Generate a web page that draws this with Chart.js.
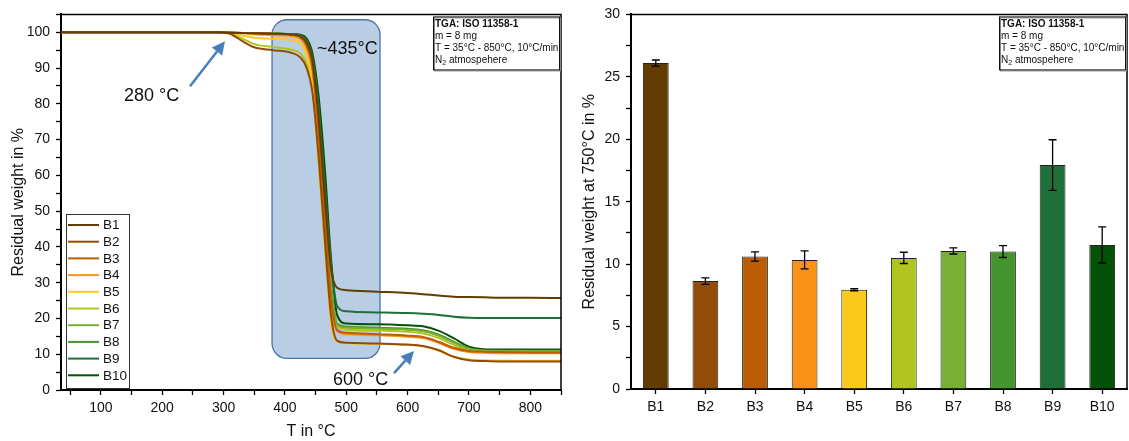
<!DOCTYPE html>
<html>
<head>
<meta charset="utf-8">
<title>TGA residual weight</title>
<script src="https://cdn.jsdelivr.net/npm/chart.js@4.4.1/dist/chart.umd.min.js"></script>
<style>
  body { margin: 0; background: #fff; }
  #tgaBox { position: absolute; left: 0; top: 0; width: 570px; height: 441px; }
  #barBox { position: absolute; left: 570px; top: 0; width: 559px; height: 441px; }
</style>
</head>
<body>
<div id="tgaBox"><canvas id="tgaChart" width="570" height="441"></canvas></div>
<div id="barBox"><canvas id="barChart" width="559" height="441"></canvas></div>
<script>
const FONT = "'Liberation Sans', Arial, sans-serif";

// Samples and their colours
const sampleNames = ['B1', 'B2', 'B3', 'B4', 'B5', 'B6', 'B7', 'B8', 'B9', 'B10'];
const sampleColors = ['#633c04', '#924c09', '#bb5d04', '#fa9219', '#fdca1b',
                      '#b1c520', '#7bae35', '#45942e', '#1f7038', '#045205'];

// TGA curves: temperature (°C) and residual weight (%)
const temperatures = [35, 150, 270, 290, 310, 330, 350, 380, 410, 425, 435, 445, 455, 465,
                      475, 485, 500, 550, 600, 625, 650, 675, 700, 725, 750, 800, 850];
const weightB1  = [100, 100, 100, 100, 99.9, 99.8, 99.7, 99.6, 99.4, 98.9, 97.2, 92, 76, 54,
                   34, 28.6, 27.9, 27.5, 27.1, 26.8, 26.4, 26.1, 26.0, 25.9, 25.8, 25.8, 25.7];
const weightB2  = [100, 100, 100, 99.95, 99.6, 97.6, 95.8, 95.0, 94.3, 93.0, 90.2, 83, 65, 42,
                   21, 13.8, 13.2, 13.0, 12.7, 12.3, 11.2, 9.3, 8.3, 8.1, 8.0, 8.0, 8.0];
const weightB3  = [100, 100, 100, 100, 99.9, 99.8, 99.7, 99.6, 99.3, 98.6, 96.4, 90, 72, 48,
                   26, 16.8, 16.0, 15.6, 15.2, 14.8, 13.5, 11.8, 10.9, 10.7, 10.6, 10.5, 10.5];
const weightB4  = [100, 100, 100, 100, 99.9, 99.7, 99.4, 99.2, 98.9, 98.2, 95.6, 89, 70, 46,
                   25, 16.4, 15.6, 15.3, 14.9, 14.5, 13.2, 11.5, 10.6, 10.4, 10.3, 10.3, 10.3];
const weightB5  = [100, 100, 100, 100, 99.8, 99.1, 98.5, 98.2, 97.9, 97.0, 94, 85, 64, 41,
                   19, 13.6, 13.1, 12.9, 12.6, 12.2, 11.0, 9.3, 8.5, 8.3, 8.2, 8.2, 8.2];
const weightB6  = [100, 100, 100, 99.95, 99.7, 98.3, 96.7, 95.9, 95.2, 94.1, 91.4, 84, 64, 41,
                   21, 17.6, 16.9, 16.6, 16.3, 15.8, 14.6, 12.6, 11.0, 10.6, 10.5, 10.4, 10.4];
const weightB7  = [100, 100, 100, 100, 99.9, 99.8, 99.7, 99.6, 99.4, 98.9, 97, 91, 74, 51,
                   29, 18.2, 17.4, 17.1, 16.8, 16.4, 15.2, 13.2, 11.5, 11.0, 10.9, 10.9, 10.9];
const weightB8  = [100, 100, 100, 100, 99.9, 99.8, 99.7, 99.6, 99.4, 98.9, 97.2, 91.5, 75, 52,
                   30, 18.5, 17.7, 17.4, 17.1, 16.7, 15.5, 13.5, 11.7, 11.1, 11.0, 11.0, 11.0];
const weightB9  = [100, 100, 100, 100, 99.9, 99.8, 99.7, 99.6, 99.5, 99.1, 97.8, 93, 79, 57,
                   36, 23.5, 22.0, 21.7, 21.5, 21.3, 21.0, 20.5, 20.2, 20.1, 20.1, 20.1, 20.1];
const weightB10 = [100, 100, 100, 100, 99.9, 99.8, 99.7, 99.6, 99.5, 99.3, 98.3, 94, 82, 62,
                   37, 21, 18.6, 18.4, 18.1, 17.8, 16.6, 14.5, 12.1, 11.4, 11.3, 11.3, 11.3];
const weightCurves = [weightB1, weightB2, weightB3, weightB4, weightB5,
                      weightB6, weightB7, weightB8, weightB9, weightB10];

// Residual weight at 750 °C (%) with standard deviation
const residual750 = [26.1, 8.64, 10.61, 10.34, 7.95, 10.5, 11.06, 11.01, 17.93, 11.54];
const residualErr = [0.25, 0.26, 0.37, 0.72, 0.08, 0.45, 0.25, 0.48, 2.03, 1.45];

// Measurement conditions (|2| marks a subscript)
const infoLines = ['TGA: ISO 11358-1', 'm = 8 mg', 'T = 35°C - 850°C, 10°C/min', 'N|2| atmospehere'];

// Annotations on the TGA plot, in data units (T, weight)
const tgaNotes = {
  region: { tFrom: 379, tTo: 555, wTop: 103.5, wBottom: 8.85 },
  texts: [
    { text: '280 °C', t: 137.7, w: 80.8 },
    { text: '~435°C', t: 452.3, w: 94.0 },
    { text: '600 °C', t: 478.3, w: 1.4 }
  ],
  arrows: [
    { from: [245.3, 84.9], to: [302.3, 97.5] },
    { from: [577.8, 4.7], to: [610.4, 10.9] }
  ]
};

// ---- helpers ----
function drawFrame(ctx, area) {
  ctx.save();
  ctx.strokeStyle = '#000';
  ctx.lineWidth = 1.5;
  ctx.beginPath();
  ctx.moveTo(area.left, area.top);
  ctx.lineTo(area.right, area.top);
  ctx.lineTo(area.right, area.bottom);
  ctx.stroke();
  ctx.restore();
}

function drawInfoBox(ctx, area) {
  const w = 126, h = 53;
  const left = area.right - w - 2, top = area.top + 2;
  ctx.save();
  ctx.fillStyle = '#fff';
  ctx.fillRect(left, top, w, h);
  ctx.strokeStyle = '#888';
  ctx.lineWidth = 1;
  ctx.strokeRect(left + 1.5, top + 1.5, w, h);
  ctx.strokeStyle = '#111';
  ctx.strokeRect(left + 0.5, top + 0.5, w, h);
  ctx.fillStyle = '#111';
  ctx.textBaseline = 'alphabetic';
  infoLines.forEach((line, i) => {
    const base = top + 10.5 + i * 12;
    const parts = line.split('|');
    let x = left + 2;
    parts.forEach((p, j) => {
      // odd pieces are subscripts
      if (j % 2 === 1) {
        ctx.font = '7px ' + FONT;
        ctx.fillText(p, x, base + 2.5);
      } else {
        ctx.font = (i === 0 ? 'bold ' : '') + '10px ' + FONT;
        ctx.fillText(p, x, base);
      }
      x += ctx.measureText(p).width;
    });
  });
  ctx.restore();
}

function drawArrow(ctx, x0, y0, x1, y1) {
  const ang = Math.atan2(y1 - y0, x1 - x0);
  const headLen = 13, headW = 6.5;
  const bx = x1 - headLen * Math.cos(ang), by = y1 - headLen * Math.sin(ang);
  ctx.beginPath();
  ctx.moveTo(x0, y0);
  ctx.lineTo(bx, by);
  ctx.stroke();
  ctx.beginPath();
  ctx.moveTo(x1, y1);
  ctx.lineTo(bx + headW * Math.sin(ang), by - headW * Math.cos(ang));
  ctx.lineTo(bx - headW * Math.sin(ang), by + headW * Math.cos(ang));
  ctx.closePath();
  ctx.fill();
}

// ---- TGA chart decorations ----
const tgaDecor = {
  id: 'tgaDecor',
  beforeDatasetsDraw(chart) {
    const { ctx, scales: { x, y } } = chart;
    const r = tgaNotes.region;
    const x0 = x.getPixelForValue(r.tFrom), x1 = x.getPixelForValue(r.tTo);
    const y0 = y.getPixelForValue(r.wTop), y1 = y.getPixelForValue(r.wBottom);
    ctx.save();
    ctx.beginPath();
    ctx.roundRect(x0, y0, x1 - x0, y1 - y0, 15);
    ctx.fillStyle = '#b9cde5';
    ctx.fill();
    ctx.lineWidth = 1.3;
    ctx.strokeStyle = '#4a72a6';
    ctx.stroke();
    ctx.restore();
  },
  afterDatasetsDraw(chart) {
    const { ctx, chartArea, scales: { x, y } } = chart;
    drawFrame(ctx, chartArea);

    ctx.save();
    ctx.font = '18px ' + FONT;
    ctx.fillStyle = '#111';
    ctx.textBaseline = 'alphabetic';
    tgaNotes.texts.forEach(n => ctx.fillText(n.text, x.getPixelForValue(n.t), y.getPixelForValue(n.w)));

    ctx.strokeStyle = '#4a7ebb';
    ctx.fillStyle = '#4a7ebb';
    ctx.lineWidth = 2.5;
    tgaNotes.arrows.forEach(a => drawArrow(ctx,
      x.getPixelForValue(a.from[0]), y.getPixelForValue(a.from[1]),
      x.getPixelForValue(a.to[0]), y.getPixelForValue(a.to[1])));
    ctx.restore();

    drawInfoBox(ctx, chartArea);

    // legend box, lower left corner of the plot
    const rowH = 16.7;
    const lw = 63, lh = rowH * 10 + 7;
    const lx = chartArea.left + 5, ly = chartArea.bottom - 2 - lh;
    ctx.save();
    ctx.fillStyle = '#fff';
    ctx.fillRect(lx, ly, lw, lh);
    ctx.strokeStyle = '#333';
    ctx.lineWidth = 1;
    ctx.strokeRect(lx + 0.5, ly + 0.5, lw, lh);
    ctx.font = '13.5px ' + FONT;
    ctx.textBaseline = 'middle';
    chart.data.datasets.forEach((ds, i) => {
      const cy = ly + 11 + i * rowH;
      ctx.strokeStyle = ds.borderColor;
      ctx.lineWidth = 2;
      ctx.beginPath();
      ctx.moveTo(lx + 2, cy);
      ctx.lineTo(lx + 33, cy);
      ctx.stroke();
      ctx.fillStyle = '#111';
      ctx.fillText(ds.label, lx + 37, cy + 0.5);
    });
    ctx.restore();
  }
};

new Chart(document.getElementById('tgaChart'), {
  type: 'line',
  data: {
    datasets: sampleNames.map((name, i) => ({
      label: name,
      data: temperatures.map((t, k) => ({ x: t, y: weightCurves[i][k] })),
      borderColor: sampleColors[i],
      borderWidth: 2,
      pointRadius: 0,
      cubicInterpolationMode: 'monotone',
      fill: false
    }))
  },
  options: {
    responsive: false,
    animation: false,
    layout: { padding: { left: 0, top: 14, right: 9, bottom: 0 } },
    plugins: { legend: { display: false }, tooltip: { enabled: false } },
    scales: {
      x: {
        type: 'linear',
        min: 35,
        max: 850,
        afterFit: s => { s.height = 51; },
        border: { display: true, color: '#000', width: 2 },
        grid: { drawOnChartArea: false, drawTicks: true, tickLength: 5, tickWidth: 1.3, color: '#000' },
        ticks: {
          stepSize: 50,
          includeBounds: false,
          autoSkip: false,
          maxRotation: 0,
          padding: 5,
          color: '#111',
          font: { family: FONT, size: 14 },
          callback: v => (v % 100 === 0 ? v : '')
        },
        title: { display: true, text: 'T in °C', color: '#111', font: { family: FONT, size: 16 }, padding: { top: 0, bottom: 0 } }
      },
      y: {
        min: 0,
        max: 105,
        afterFit: s => { s.width = 61; },
        border: { display: true, color: '#000', width: 2 },
        grid: { drawOnChartArea: false, drawTicks: true, tickLength: 5, tickWidth: 1.3, color: '#000' },
        ticks: {
          stepSize: 5,
          autoSkip: false,
          padding: 6,
          color: '#111',
          font: { family: FONT, size: 14 },
          callback: v => (v % 10 === 0 && v <= 100 ? v : '')
        },
        title: { display: true, text: 'Residual weight in %', color: '#111', font: { family: FONT, size: 16 }, padding: { top: 9, bottom: 0 } }
      }
    }
  },
  plugins: [tgaDecor]
});

// ---- bar chart with error bars ----
const barDecor = {
  id: 'barDecor',
  afterDatasetsDraw(chart) {
    const { ctx, chartArea, scales: { y } } = chart;
    const meta = chart.getDatasetMeta(0);
    ctx.save();
    ctx.strokeStyle = '#000';
    ctx.lineWidth = 1.3;
    meta.data.forEach((bar, i) => {
      const hi = y.getPixelForValue(residual750[i] + residualErr[i]);
      const lo = y.getPixelForValue(residual750[i] - residualErr[i]);
      ctx.beginPath();
      ctx.moveTo(bar.x, hi); ctx.lineTo(bar.x, lo);
      ctx.moveTo(bar.x - 4, hi); ctx.lineTo(bar.x + 4, hi);
      ctx.moveTo(bar.x - 4, lo); ctx.lineTo(bar.x + 4, lo);
      ctx.stroke();
    });
    ctx.restore();
    drawFrame(ctx, chartArea);
    drawInfoBox(ctx, chartArea);
  }
};

new Chart(document.getElementById('barChart'), {
  type: 'bar',
  data: {
    labels: sampleNames,
    datasets: [{
      data: residual750,
      backgroundColor: sampleColors,
      borderColor: '#222',
      borderWidth: 1,
      barPercentage: 0.52,
      categoryPercentage: 1
    }]
  },
  options: {
    responsive: false,
    animation: false,
    layout: { padding: { left: 0, top: 13, right: 2, bottom: 0 } },
    plugins: { legend: { display: false }, tooltip: { enabled: false } },
    scales: {
      x: {
        afterFit: s => { s.height = 52; },
        border: { display: true, color: '#000', width: 2 },
        grid: { offset: false, drawOnChartArea: false, drawTicks: true, tickLength: 5, tickWidth: 1.3, color: '#000' },
        ticks: { padding: 5, color: '#111', font: { family: FONT, size: 14 } }
      },
      y: {
        min: 0,
        max: 30,
        afterFit: s => { s.width = 61; },
        border: { display: true, color: '#000', width: 2 },
        grid: { drawOnChartArea: false, drawTicks: true, tickLength: 5, tickWidth: 1.3, color: '#000' },
        ticks: {
          stepSize: 2.5,
          autoSkip: false,
          padding: 6,
          color: '#111',
          font: { family: FONT, size: 14 },
          callback: v => (v % 5 === 0 ? v : '')
        },
        title: { display: true, text: 'Residual weight at 750°C in %', color: '#111', font: { family: FONT, size: 16 }, padding: { top: 10, bottom: 0 } }
      }
    }
  },
  plugins: [barDecor]
});
</script>
</body>
</html>
